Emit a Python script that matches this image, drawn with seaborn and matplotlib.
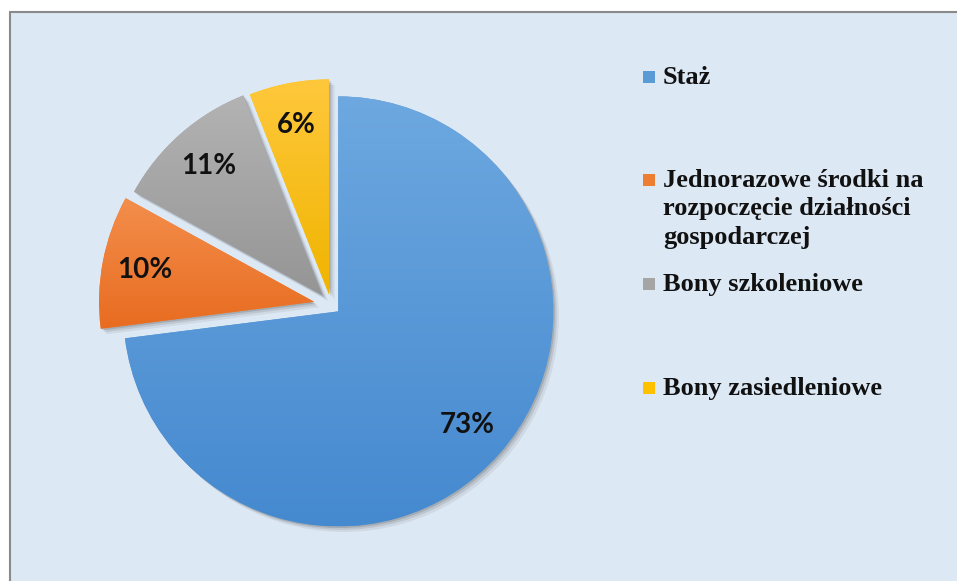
import numpy as np
import matplotlib
matplotlib.use("Agg")
import matplotlib.pyplot as plt
import matplotlib.patheffects as pe
from matplotlib.colors import LinearSegmentedColormap
from matplotlib.patches import Rectangle
import seaborn as sns

sns.set_theme(style="white")

# Data
categories = ["Staż",
              "Jednorazowe środki na\nrozpoczęcie działności\ngospodarczej",
              "Bony szkoleniowe",
              "Bony zasiedleniowe"]
shares = [73, 10, 11, 6]
colors = ["#5b9bd5", "#ed7d31", "#a5a5a5", "#ffc000"]
grad_top = ["#6da8e0", "#f38e4c", "#b3b3b3", "#ffc83c"]
grad_bottom = ["#4589cf", "#e86c20", "#959595", "#f0b400"]
pct_labels = ["73%", "10%", "11%", "6%"]

W, H = 957, 581
fig = plt.figure(figsize=(W / 100, H / 100), dpi=100)
fig.patch.set_facecolor("white")

# Background panel with a thin grey frame on the left and top
bg_ax = fig.add_axes([0, 0, 1, 1], zorder=-5)
bg_ax.set_xlim(0, W)
bg_ax.set_ylim(H, 0)
bg_ax.axis("off")
bg_ax.add_patch(Rectangle((10, 12), W - 10, H - 12, facecolor="#dde8f5", edgecolor="none"))
bg_ax.plot([10, 10], [H, 12], color="#8a8a8a", lw=1.5)
bg_ax.plot([10, W], [12, 12], color="#8a8a8a", lw=1.5)

# Pie axes: centre ~ (331, 305) px, radius ~ 215 px
R = 215
lim = 1.2
side = 2 * lim * R
cx, cy = 331, 305
ax = fig.add_axes([(cx - side / 2) / W, (H - cy - side / 2) / H, side / W, side / H], zorder=1)
ax.patch.set_alpha(0)

wedges, _ = ax.pie(shares, colors=colors, startangle=90, counterclock=False,
                   explode=[0.045, 0.08, 0.06, 0.05], radius=1.0,
                   wedgeprops=dict(linewidth=0))
ax.set_xlim(-lim, lim)
ax.set_ylim(-lim, lim)
ax.set_aspect("equal")
ax.axis("off")

# Soft shadow and vertical gradient for each slice
for w, top, bot in zip(wedges, grad_top, grad_bottom):
    w.set_path_effects([
        pe.SimplePatchShadow(offset=(4, -4), shadow_rgbFace="#555555", alpha=0.10),
        pe.SimplePatchShadow(offset=(2.5, -2.5), shadow_rgbFace="#555555", alpha=0.15),
        pe.SimplePatchShadow(offset=(1.2, -1.2), shadow_rgbFace="#444444", alpha=0.2),
        pe.Normal()])
    ext = w.get_path().get_extents()
    cmap = LinearSegmentedColormap.from_list("g", [top, bot])
    grad = np.linspace(0, 1, 256).reshape(-1, 1)
    im = ax.imshow(grad, cmap=cmap, aspect="auto", origin="upper",
                   extent=[ext.x0, ext.x1, ext.y0, ext.y1], zorder=w.get_zorder() + 0.1,
                   interpolation="bilinear")
    im.set_clip_path(w)

ax.set_xlim(-lim, lim)
ax.set_ylim(-lim, lim)

# Percentage labels, placed along each slice's mid angle
theta = 90.0
for w, s, lab in zip(wedges, shares, pct_labels):
    mid = np.deg2rad(theta - s * 3.6 / 2)
    theta -= s * 3.6
    ox, oy = w.center
    r = 0.8
    ax.text(ox + r * np.cos(mid), oy + r * np.sin(mid), lab, ha="center", va="center",
            fontsize=20, fontfamily="Lato", fontweight="bold", color="#111111", zorder=10)

# Legend, drawn entry by entry on the right (marker y, text-block centre y)
legend_pos = [(77, 77), (180, 209), (284, 284), (388, 388)]
for lab, (my, ty), col in zip(categories, legend_pos, colors):
    sq = 12
    bg_ax.add_patch(Rectangle((643, my - sq / 2), sq, sq, facecolor=col, edgecolor="none"))
    bg_ax.text(663, ty, lab, ha="left", va="center",
               fontsize=19, fontfamily="Liberation Serif", fontweight="bold", color="#111111",
               linespacing=1.32)

fig.savefig("out.png", dpi=100, facecolor=fig.get_facecolor())
